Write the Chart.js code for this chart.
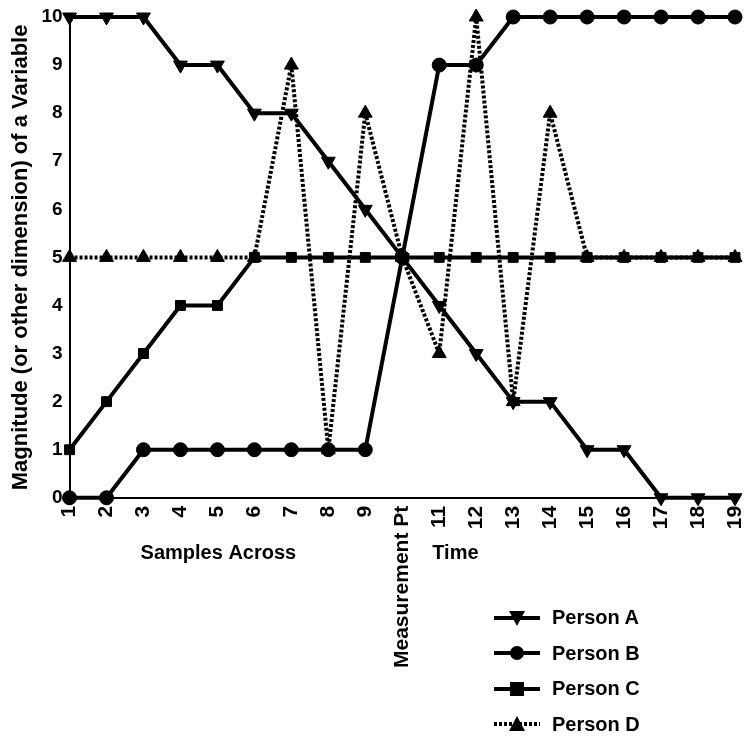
<!DOCTYPE html>
<html>
<head>
<meta charset="utf-8">
<script src="https://cdn.jsdelivr.net/npm/chart.js@4"></script>
<style>
  html, body { margin: 0; padding: 0; background: #fff; }
  #wrap { position: relative; width: 745px; height: 737px; }
  #legend { position: absolute; left: 494px; top: 600px; font: bold 20px "Liberation Sans", Arial, sans-serif; color: #000; }
  #legend .row { display: flex; align-items: center; height: 35.5px; }
  #legend svg { margin-right: 12px; }
</style>
</head>
<body>
<div id="wrap">
  <canvas id="c" width="745" height="737"></canvas>
  <div id="legend"></div>
</div>
<script>
const labels = ['1','2','3','4','5','6','7','8','9','Measurement Pt','11','12','13','14','15','16','17','18','19'];
const personA = [10,10,10,9,9,8,8,7,6,5,4,3,2,2,1,1,0,0,0];
const personB = [0,0,1,1,1,1,1,1,1,5,9,9,10,10,10,10,10,10,10];
const personC = [1,2,3,4,4,5,5,5,5,5,5,5,5,5,5,5,5,5,5];
const personD = [5,5,5,5,5,5,9,1,8,5,3,10,2,8,5,5,5,5,5];
const yTicks = [0,1,2,3,4,5,6,7,8,9,10];

const FONT = '"Liberation Sans", Arial, sans-serif';

const series = [
  { label: 'Person A', data: personA, style: 'triangle', rot: 180, dash: [], order: 2 },
  { label: 'Person B', data: personB, style: 'circle', rot: 0, dash: [], order: 3 },
  { label: 'Person C', data: personC, style: 'rect', rot: 0, dash: [], order: 1 },
  { label: 'Person D', data: personD, style: 'triangle', rot: 0, dash: [3, 2], order: 0 },
];

// extra axis words below the tick labels
const axisWords = {
  id: 'axisWords',
  afterDraw(chart) {
    const ctx = chart.ctx;
    const x = chart.scales.x;
    ctx.save();
    ctx.fillStyle = '#000';
    ctx.font = 'bold 20px ' + FONT;
    ctx.textBaseline = 'middle';
    ctx.textAlign = 'center';
    ctx.fillText('Samples Across', x.getPixelForValue(4) + 1, 553);
    ctx.textAlign = 'left';
    ctx.fillText('Time', x.getPixelForValue(9) + 30, 553);
    ctx.restore();
  },
};

new Chart(document.getElementById('c'), {
  type: 'line',
  data: {
    labels,
    datasets: series.map(s => ({
      label: s.label,
      data: s.data,
      borderColor: '#000',
      backgroundColor: '#000',
      borderWidth: 4,
      borderDash: s.dash,
      borderJoinStyle: 'round',
      pointStyle: s.style,
      pointRotation: s.rot,
      pointRadius: s.style === 'triangle' ? 8 : 7,
      pointBorderWidth: 1,
      tension: 0,
      clip: false,
      order: s.order,
    })),
  },
  options: {
    responsive: false,
    animation: false,
    layout: { padding: { top: 17, right: 10, left: 8, bottom: 67 } },
    plugins: { legend: { display: false }, tooltip: { enabled: false } },
    scales: {
      x: {
        offset: false,
        // rotated labels reserve room on the right we don't need
        afterFit: axis => { axis.paddingRight = 0; axis.paddingLeft = 0; },
        grid: { display: false, drawTicks: true, tickLength: 6, tickColor: '#000' },
        border: { color: '#000', width: 2 },
        ticks: { color: '#000', font: { family: FONT, weight: 'bold', size: 21 }, minRotation: 90, maxRotation: 90, autoSkip: false, padding: 2 },
      },
      y: {
        min: 0, max: 10,
        afterBuildTicks: axis => { axis.ticks = yTicks.map(v => ({ value: v })); },
        grid: { display: false, drawTicks: true, tickLength: 6, tickColor: '#000' },
        border: { color: '#000', width: 2 },
        ticks: { color: '#000', font: { family: FONT, weight: 'bold', size: 19 }, padding: 1 },
        title: { display: true, text: 'Magnitude (or other dimension) of a Variable', color: '#000', font: { family: FONT, weight: 'bold', size: 22 }, padding: { top: 0, bottom: 6 } },
      },
    },
  },
  plugins: [axisWords],
});

// legend with real text
const icons = {
  'Person A': '<polygon points="15,3 31,3 23,18" fill="#000"/>',
  'Person B': '<circle cx="23" cy="10" r="7" fill="#000"/>',
  'Person C': '<rect x="16" y="3" width="14" height="14" fill="#000"/>',
  'Person D': '<polygon points="23,2 31,17 15,17" fill="#000"/>',
};
document.getElementById('legend').innerHTML = series.map(s => `
  <div class="row">
    <svg width="46" height="20" viewBox="0 0 46 20">
      <line x1="0" y1="10" x2="46" y2="10" stroke="#000" stroke-width="4" ${s.dash.length ? 'stroke-dasharray="3,2"' : ''}/>
      ${icons[s.label]}
    </svg>
    <span>${s.label}</span>
  </div>`).join('');
</script>
</body>
</html>
